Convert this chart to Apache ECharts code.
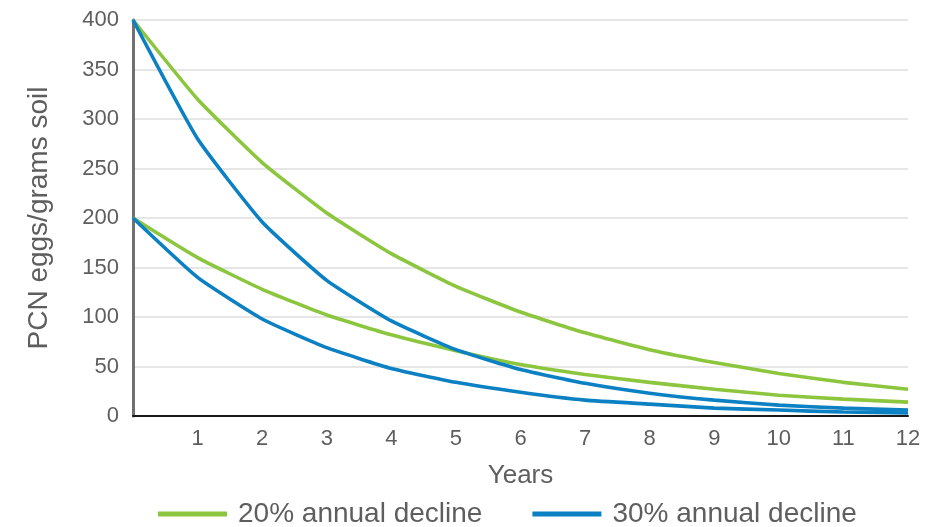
<!DOCTYPE html>
<html><head><meta charset="utf-8">
<script src="https://cdn.jsdelivr.net/npm/echarts@6/dist/echarts.min.js"></script>
<style>html,body{margin:0;padding:0;background:#fff}#c{width:935px;height:527px}</style>
</head><body><div id="c"></div>
<script>
const years = [0,1,2,3,4,5,6,7,8,9,10,11,12];
const green400 = [400,320,256,205,164,131,105,84,67,54,43,34,27];
const green200 = [200,160,128,102,82,66,52,42,34,27,21,17,14];
const blue400  = [400,280,196,137,96,67,47,33,23,16,11,8,6];
const blue200  = [200,140,98,69,48,34,24,16,12,8,6,4,3];
const yTicks = [0,50,100,150,200,250,300,350,400];
const names = ['20% annual decline','30% annual decline'];
const GREEN = '#8cc63e', BLUE = '#0b80c3';
const TXT = '#5e5e5e';
const pair = (arr) => years.map((x,i)=>[x,arr[i]]);
const lineStyle = (c) => ({color:c, width:3.6});
const chart = echarts.init(document.getElementById('c'));
chart.setOption({
  animation:false,
  textStyle:{fontFamily:'Liberation Sans, Arial, sans-serif'},
  grid:{left:133,right:27,top:20,bottom:111},
  legend:{top:495,left:153,itemWidth:69,itemHeight:5,itemGap:50,icon:'rect',
    textStyle:{fontSize:28,color:TXT,padding:[0,0,0,6]},data:names},
  xAxis:{type:'value',min:0,max:12,interval:1,name:'Years',nameLocation:'middle',nameGap:47,
    nameTextStyle:{fontSize:26,color:TXT},
    axisLine:{lineStyle:{color:'#1a1a1a',width:2}},axisTick:{show:false},splitLine:{show:false},
    axisLabel:{fontSize:22,color:TXT,margin:12,formatter:v=>v===0?'':String(v)}},
  yAxis:{type:'value',min:0,max:400,interval:50,name:'PCN eggs/grams soil',nameLocation:'middle',nameGap:80,
    nameTextStyle:{fontSize:28,color:TXT},
    axisLine:{show:true,lineStyle:{color:'#707070',width:3}},axisTick:{show:false},
    splitLine:{lineStyle:{color:'#e6e6e6',width:2}},
    axisLabel:{fontSize:22,color:TXT,margin:14,customValues:yTicks}},
  series:[
    {name:names[0],type:'line',data:pair(green400),showSymbol:false,smooth:0.15,lineStyle:lineStyle(GREEN),itemStyle:{color:GREEN}},
    {name:names[0],type:'line',data:pair(green200),showSymbol:false,smooth:0.15,lineStyle:lineStyle(GREEN),itemStyle:{color:GREEN}},
    {name:names[1],type:'line',data:pair(blue400),showSymbol:false,smooth:0.15,lineStyle:lineStyle(BLUE),itemStyle:{color:BLUE}},
    {name:names[1],type:'line',data:pair(blue200),showSymbol:false,smooth:0.15,lineStyle:lineStyle(BLUE),itemStyle:{color:BLUE}}
  ]
});
</script></body></html>
